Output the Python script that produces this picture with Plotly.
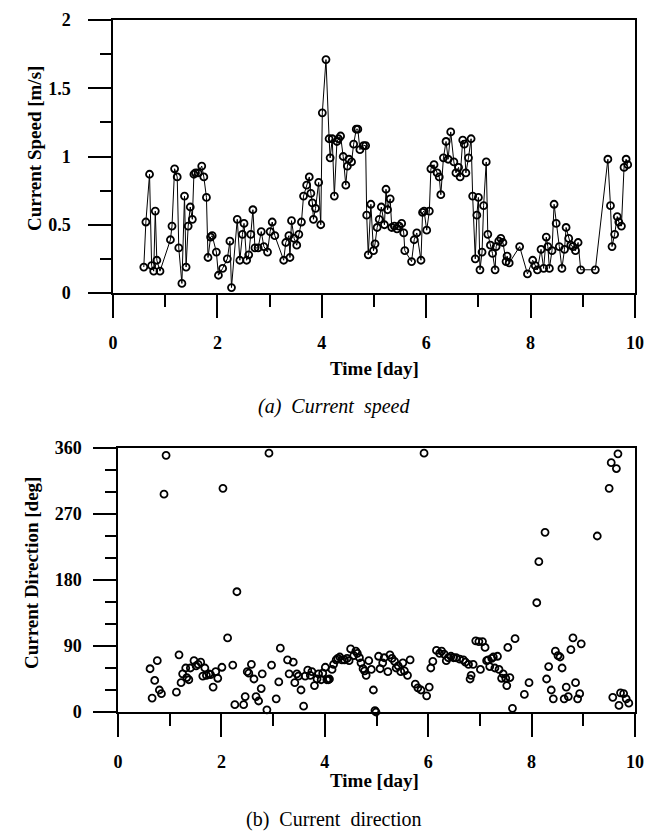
import plotly.graph_objects as go

# ---------------- data ----------------
speed_time = [0.59, 0.63, 0.70, 0.74, 0.78, 0.81, 0.84, 0.90, 1.10, 1.13, 1.18, 1.23, 1.26, 1.32,
              1.37, 1.40, 1.44, 1.48, 1.52, 1.55, 1.58, 1.63, 1.70, 1.74, 1.79, 1.82, 1.87, 1.90,
              1.98, 2.02, 2.10, 2.19, 2.24, 2.27, 2.38, 2.43, 2.48, 2.51, 2.56, 2.60, 2.64, 2.68,
              2.72, 2.78, 2.84, 2.89, 2.96, 3.01, 3.05, 3.10, 3.27, 3.31, 3.37, 3.39, 3.42, 3.47,
              3.52, 3.56, 3.61, 3.65, 3.71, 3.76, 3.79, 3.82, 3.84, 3.88, 3.94, 3.98, 4.01, 4.08,
              4.14, 4.16, 4.20, 4.24, 4.29, 4.32, 4.36, 4.41, 4.46, 4.49, 4.52, 4.57, 4.61, 4.66,
              4.69, 4.73, 4.80, 4.84, 4.86, 4.89, 4.94, 4.99, 5.02, 5.06, 5.10, 5.14, 5.20, 5.23,
              5.26, 5.31, 5.34, 5.39, 5.44, 5.48, 5.53, 5.57, 5.59, 5.72, 5.77, 5.82, 5.90, 5.93,
              5.96, 6.01, 6.06, 6.09, 6.15, 6.21, 6.25, 6.28, 6.33, 6.38, 6.42, 6.47, 6.53, 6.57,
              6.62, 6.65, 6.70, 6.73, 6.76, 6.81, 6.86, 6.89, 6.94, 6.97, 7.00, 7.03, 7.07, 7.10,
              7.15, 7.18, 7.23, 7.27, 7.32, 7.34, 7.39, 7.43, 7.47, 7.53, 7.55, 7.59, 7.79, 7.94,
              8.04, 8.09, 8.13, 8.20, 8.25, 8.30, 8.33, 8.36, 8.41, 8.45, 8.49, 8.55, 8.60, 8.65,
              8.68, 8.73, 8.77, 8.81, 8.86, 8.91, 8.96, 9.24, 9.48, 9.53, 9.56, 9.61, 9.66, 9.69,
              9.74, 9.79, 9.83, 9.86]
speed_value = [0.19, 0.52, 0.87, 0.20, 0.16, 0.60, 0.24, 0.16, 0.39, 0.49, 0.91, 0.85, 0.33, 0.07,
               0.71, 0.19, 0.49, 0.63, 0.54, 0.87, 0.88, 0.88, 0.93, 0.85, 0.70, 0.26, 0.41, 0.42,
               0.30, 0.13, 0.18, 0.25, 0.38, 0.04, 0.54, 0.24, 0.43, 0.51, 0.24, 0.28, 0.43, 0.61,
               0.33, 0.33, 0.45, 0.34, 0.30, 0.45, 0.52, 0.42, 0.24, 0.37, 0.42, 0.26, 0.53, 0.40,
               0.35, 0.43, 0.52, 0.71, 0.79, 0.85, 0.73, 0.66, 0.54, 0.62, 0.81, 0.50, 1.32, 1.71,
               1.13, 0.99, 1.13, 0.71, 1.11, 1.13, 1.15, 1.00, 0.79, 0.93, 0.98, 0.96, 1.09, 1.20,
               1.20, 1.05, 1.08, 1.08, 0.57, 0.28, 0.65, 0.31, 0.36, 0.48, 0.54, 0.63, 0.50, 0.76,
               0.61, 0.69, 0.48, 0.49, 0.47, 0.49, 0.51, 0.44, 0.31, 0.23, 0.39, 0.44, 0.24, 0.59,
               0.60, 0.46, 0.60, 0.91, 0.94, 0.88, 0.85, 0.72, 0.99, 1.11, 0.98, 1.18, 0.96, 0.88,
               0.92, 0.85, 1.12, 1.09, 0.88, 0.99, 1.13, 0.71, 0.25, 0.57, 0.70, 0.17, 0.30, 0.64,
               0.96, 0.43, 0.35, 0.29, 0.17, 0.34, 0.38, 0.40, 0.37, 0.23, 0.27, 0.22, 0.34, 0.14,
               0.24, 0.20, 0.17, 0.32, 0.18, 0.41, 0.34, 0.18, 0.31, 0.65, 0.51, 0.34, 0.18, 0.32,
               0.48, 0.40, 0.35, 0.34, 0.31, 0.37, 0.17, 0.17, 0.98, 0.64, 0.34, 0.43, 0.56, 0.52,
               0.49, 0.92, 0.98, 0.94]

dir_time = [0.62, 0.66, 0.71, 0.76, 0.80, 0.84, 0.89, 0.93, 1.13, 1.18, 1.22, 1.25, 1.31, 1.33,
            1.37, 1.40, 1.47, 1.51, 1.55, 1.60, 1.64, 1.68, 1.71, 1.76, 1.79, 1.84, 1.89, 1.93,
            2.01, 2.03, 2.12, 2.22, 2.26, 2.30, 2.43, 2.46, 2.50, 2.53, 2.58, 2.63, 2.67, 2.72,
            2.77, 2.79, 2.88, 2.92, 2.97, 3.06, 3.11, 3.14, 3.28, 3.31, 3.39, 3.42, 3.46, 3.49,
            3.54, 3.59, 3.62, 3.67, 3.72, 3.75, 3.80, 3.85, 3.88, 3.93, 3.96, 4.01, 4.04, 4.07,
            4.09, 4.14, 4.17, 4.22, 4.25, 4.29, 4.33, 4.38, 4.43, 4.47, 4.50, 4.56, 4.60, 4.63,
            4.67, 4.70, 4.74, 4.77, 4.80, 4.85, 4.90, 4.94, 4.97, 4.99, 5.04, 5.07, 5.12, 5.15,
            5.22, 5.26, 5.30, 5.35, 5.38, 5.42, 5.47, 5.51, 5.54, 5.60, 5.65, 5.75, 5.80, 5.86,
            5.92, 5.97, 6.02, 6.05, 6.09, 6.16, 6.22, 6.26, 6.31, 6.35, 6.39, 6.44, 6.49, 6.54,
            6.61, 6.68, 6.72, 6.78, 6.81, 6.83, 6.87, 6.92, 6.98, 7.01, 7.05, 7.10, 7.13, 7.16,
            7.19, 7.23, 7.26, 7.29, 7.34, 7.37, 7.42, 7.45, 7.50, 7.52, 7.54, 7.58, 7.63, 7.68,
            7.86, 7.95, 8.10, 8.14, 8.26, 8.29, 8.33, 8.38, 8.42, 8.46, 8.51, 8.55, 8.59, 8.63,
            8.67, 8.71, 8.76, 8.80, 8.85, 8.89, 8.93, 8.96, 9.27, 9.50, 9.54, 9.57, 9.64, 9.67,
            9.69, 9.72, 9.78, 9.83, 9.88]
dir_value = [59, 19, 43, 70, 30, 25, 297, 350, 27, 78, 40, 52, 60, 47,
             44, 60, 70, 63, 65, 68, 49, 60, 50, 52, 51, 34, 55, 46,
             61, 305, 101, 64, 10, 164, 10, 21, 55, 53, 65, 45, 21, 15,
             32, 52, 3, 353, 64, 18, 41, 87, 71, 52, 68, 40, 52, 49,
             30, 8, 49, 57, 50, 55, 36, 45, 52, 44, 53, 61, 44, 44,
             45, 58, 65, 71, 73, 75, 71, 71, 73, 70, 86, 77, 83, 80,
             74, 67, 59, 56, 50, 70, 58, 30, 2, 0, 76, 59, 67, 74,
             55, 78, 73, 69, 60, 63, 55, 67, 56, 50, 71, 38, 33, 30,
             353, 22, 34, 60, 69, 84, 80, 83, 79, 70, 74, 76, 74, 74,
             72, 71, 68, 65, 45, 50, 65, 97, 96, 58, 96, 88, 70, 71,
             62, 73, 75, 60, 76, 58, 46, 52, 46, 36, 88, 47, 5, 100,
             24, 40, 149, 205, 245, 45, 62, 30, 18, 83, 77, 75, 60, 18,
             34, 21, 85, 101, 40, 18, 25, 93, 240, 305, 340, 20, 332, 352,
             9, 26, 25, 18, 12]

time_ticks = [0, 2, 4, 6, 8, 10]
speed_ticks = [0, 0.5, 1, 1.5, 2]
speed_tick_text = ["0", "0.5", "1", "1.5", "2"]
dir_ticks = [0, 90, 180, 270, 360]

# ---------------- layout helpers ----------------
W, H = 653, 836


def px(x):
    return x / W


def py(y):
    return 1 - y / H


SERIF = "Liberation Serif, Times New Roman, serif"
tickfont = dict(family=SERIF, size=18, color="black", weight="bold")
axis_common = dict(showgrid=False, zeroline=False, showline=True, linecolor="black",
                   linewidth=1.5, mirror=True, ticks="outside", ticklen=23, tickwidth=1.6,
                   tickcolor="black", tickfont=tickfont)


def minor(dt, ln):
    return dict(dtick=dt, tick0=0, ticks="outside", ticklen=ln, tickwidth=1.6,
                tickcolor="black", showgrid=False)


fig = go.Figure()
fig.add_trace(go.Scatter(
    x=speed_time, y=speed_value, mode="lines+markers", xaxis="x", yaxis="y",
    line=dict(color="black", width=1),
    marker=dict(symbol="circle-open", size=7, color="black", line=dict(width=1.8, color="black")),
    cliponaxis=False, showlegend=False))
fig.add_trace(go.Scatter(
    x=dir_time, y=dir_value, mode="markers", xaxis="x2", yaxis="y2",
    marker=dict(symbol="circle-open", size=7, color="black", line=dict(width=1.8, color="black")),
    cliponaxis=False, showlegend=False))

fig.update_layout(
    width=W, height=H, margin=dict(l=0, r=0, t=0, b=0),
    paper_bgcolor="white", plot_bgcolor="white", showlegend=False,
    xaxis=dict(axis_common, domain=[px(105), px(627)], anchor="y", range=[0, 10],
               tickmode="array", tickvals=time_ticks, minor=minor(1, 12),
               ticklabelstandoff=10, automargin=False),
    yaxis=dict(axis_common, domain=[py(285), py(12)], anchor="x", range=[0, 2],
               tickmode="array", tickvals=speed_ticks, ticktext=speed_tick_text,
               minor=minor(0.25, 11), ticklabelstandoff=14, automargin=False),
    xaxis2=dict(axis_common, domain=[px(110), px(627)], anchor="y2", range=[0, 10],
                tickmode="array", tickvals=time_ticks, minor=minor(1, 12),
                ticklabelstandoff=10, automargin=False),
    yaxis2=dict(axis_common, domain=[py(704), py(440)], anchor="x2", range=[0, 360],
                tickmode="array", tickvals=dir_ticks, minor=minor(30, 11),
                ticklabelstandoff=8, automargin=False),
)

title_font = dict(family=SERIF, size=19, color="black", weight="bold")
cap_font = dict(family=SERIF, size=20, color="black")
annos = [
    dict(text="Current Speed [m/s]", x=px(26), y=py(141), textangle=-90, font=title_font),
    dict(text="Time [day]", x=px(366), y=py(360), font=title_font),
    dict(text="<i>(a)  Current  speed</i>", x=px(326), y=py(398), font=cap_font),
    dict(text="Current Direction [deg]", x=px(23), y=py(565), textangle=-90, font=title_font),
    dict(text="Time [day]", x=px(366), y=py(772), font=title_font),
    dict(text="(b)  Current  direction", x=px(326), y=py(811), font=cap_font),
]
for a in annos:
    fig.add_annotation(xref="paper", yref="paper", showarrow=False,
                       xanchor="center", yanchor="middle", **a)

fig.write_html("out.html")
